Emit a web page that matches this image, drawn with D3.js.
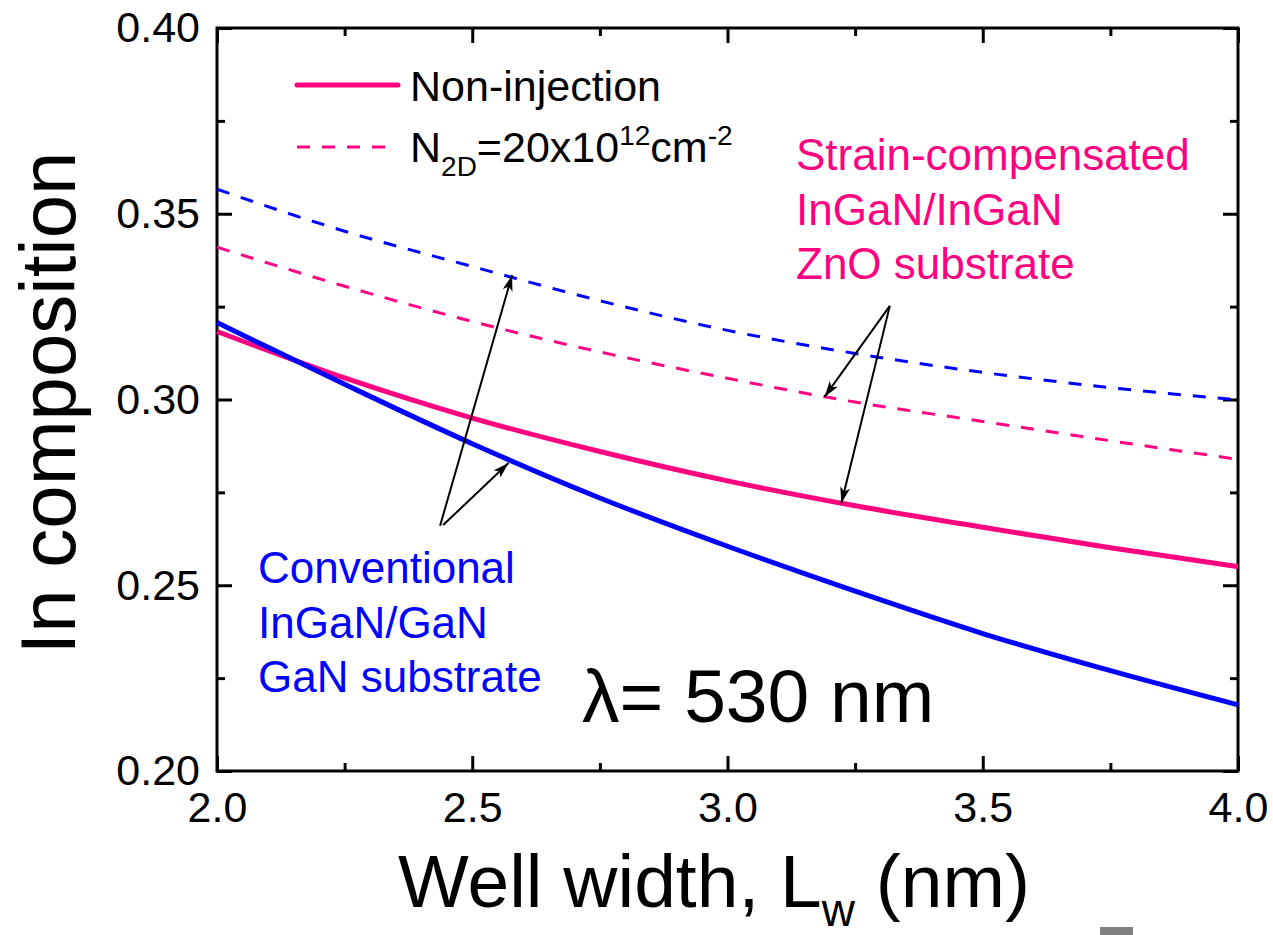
<!DOCTYPE html>
<html>
<head>
<meta charset="utf-8">
<script src="https://cdn.jsdelivr.net/npm/d3@7"></script>
<style>
  body { margin: 0; background: #fff; }
  svg text { font-family: "Liberation Sans", Arial, sans-serif; }
</style>
</head>
<body>
<div id="chart"></div>
<script>
// Well width grid (nm)
const wellWidth = [2.0, 2.25, 2.5, 2.75, 3.0, 3.25, 3.5, 3.75, 4.0];

// In composition for each case
const convNonInj = [0.3207, 0.3041, 0.2881, 0.2735, 0.2605, 0.2484, 0.2370, 0.2270, 0.2178];
const convInj = [0.3566, 0.3453, 0.3358, 0.3266, 0.3186, 0.3124, 0.3073, 0.3032, 0.2999];
const strainNonInj = [0.3183, 0.3058, 0.2950, 0.2860, 0.2781, 0.2714, 0.2656, 0.2601, 0.2550];
const strainInj = [0.3410, 0.3305, 0.3210, 0.3128, 0.3057, 0.2993, 0.2941, 0.2889, 0.2839];

// axis ticks
const xMajor = [2.0, 2.5, 3.0, 3.5, 4.0];
const xMinor = [2.25, 2.75, 3.25, 3.75];
const yMajor = [0.20, 0.25, 0.30, 0.35, 0.40];
const yMinor = [0.225, 0.275, 0.325, 0.375];

// arrow annotations (data units): tail -> tip
const convArrows = [
  [[2.437, 0.2660], [2.578, 0.3335]],
  [[2.443, 0.2662], [2.571, 0.2829]],
];
const strainArrows = [
  [[3.318, 0.3252], [3.190, 0.3007]],
  [[3.318, 0.3252], [3.223, 0.2721]],
];

const PINK = "#ff0080";
const BLUE = "#0000ff";

const dimensions = {
  width: 1273,
  height: 935,
  margin: { top: 28, right: 35, bottom: 164, left: 217 },
};
dimensions.innerWidth = dimensions.width - dimensions.margin.left - dimensions.margin.right;
dimensions.innerHeight = dimensions.height - dimensions.margin.top - dimensions.margin.bottom;

const svg = d3
  .select("#chart")
  .append("svg")
  .attr("width", dimensions.width)
  .attr("height", dimensions.height);

const defs = svg.append("defs");
defs
  .append("marker")
  .attr("id", "arrow")
  .attr("viewBox", "0 0 16 10")
  .attr("refX", 16)
  .attr("refY", 5)
  .attr("markerWidth", 16)
  .attr("markerHeight", 10)
  .attr("markerUnits", "userSpaceOnUse")
  .attr("orient", "auto")
  .append("path")
  .attr("d", "M0,0 L16,5 L0,10 L4,5 Z")
  .attr("fill", "#000");

const graph = svg
  .append("g")
  .attr("transform", `translate(${dimensions.margin.left}, ${dimensions.margin.top})`);

const xScale = d3.scaleLinear().domain([2.0, 4.0]).range([0, dimensions.innerWidth]);
const yScale = d3.scaleLinear().domain([0.20, 0.40]).range([dimensions.innerHeight, 0]);

// Axes (ticks pointing inward)
const fmt = d3.format(".1f");
const fmtY = d3.format(".2f");

function styleAxis(g) {
  g.select(".domain").remove();
  g.selectAll(".tick line").attr("stroke", "#000").attr("stroke-width", 3);
  g.selectAll("text").attr("font-size", 43).attr("fill", "#000");
}

graph
  .append("g")
  .attr("transform", `translate(0, ${dimensions.innerHeight})`)
  .call(d3.axisBottom(xScale).tickValues(xMajor).tickSize(-15).tickPadding(20).tickFormat(fmt))
  .call(styleAxis);
graph
  .append("g")
  .attr("transform", `translate(0, ${dimensions.innerHeight})`)
  .call(d3.axisBottom(xScale).tickValues(xMinor).tickSize(-8).tickFormat(""))
  .call(styleAxis);
graph
  .append("g")
  .call(d3.axisTop(xScale).tickValues(xMajor).tickSize(-15).tickFormat(""))
  .call(styleAxis);
graph
  .append("g")
  .call(d3.axisTop(xScale).tickValues(xMinor).tickSize(-8).tickFormat(""))
  .call(styleAxis);

graph
  .append("g")
  .call(d3.axisLeft(yScale).tickValues(yMajor).tickSize(-15).tickPadding(17).tickFormat(fmtY))
  .call(styleAxis);
graph
  .append("g")
  .call(d3.axisLeft(yScale).tickValues(yMinor).tickSize(-8).tickFormat(""))
  .call(styleAxis);
graph
  .append("g")
  .attr("transform", `translate(${dimensions.innerWidth}, 0)`)
  .call(d3.axisRight(yScale).tickValues(yMajor).tickSize(-15).tickFormat(""))
  .call(styleAxis);
graph
  .append("g")
  .attr("transform", `translate(${dimensions.innerWidth}, 0)`)
  .call(d3.axisRight(yScale).tickValues(yMinor).tickSize(-8).tickFormat(""))
  .call(styleAxis);

// frame
graph
  .append("rect")
  .attr("width", dimensions.innerWidth)
  .attr("height", dimensions.innerHeight)
  .attr("fill", "none")
  .attr("stroke", "#000")
  .attr("stroke-width", 3);

// Curves
const series = [
  { values: strainInj, color: PINK, dashed: true },
  { values: convInj, color: BLUE, dashed: true },
  { values: strainNonInj, color: PINK, dashed: false },
  { values: convNonInj, color: BLUE, dashed: false },
];

const lineGenerator = d3
  .line()
  .x((d) => xScale(d[0]))
  .y((d) => yScale(d[1]))
  .curve(d3.curveMonotoneX);

const lines = graph.append("g");
series.forEach((s) => {
  lines
    .append("path")
    .datum(wellWidth.map((w, i) => [w, s.values[i]]))
    .attr("d", lineGenerator)
    .attr("fill", "none")
    .attr("stroke", s.color)
    .attr("stroke-width", s.dashed ? 3 : 5)
    .attr("stroke-dasharray", s.dashed ? "13,12" : null);
});

// Arrows
graph
  .append("g")
  .selectAll("line")
  .data(convArrows.concat(strainArrows))
  .join("line")
  .attr("x1", (d) => xScale(d[0][0]))
  .attr("y1", (d) => yScale(d[0][1]))
  .attr("x2", (d) => xScale(d[1][0]))
  .attr("y2", (d) => yScale(d[1][1]))
  .attr("stroke", "#000")
  .attr("stroke-width", 2)
  .attr("marker-end", "url(#arrow)");

// Legend
const legend = svg.append("g").attr("transform", "translate(297, 85)");
legend
  .append("line")
  .attr("x1", 0)
  .attr("x2", 101)
  .attr("stroke", PINK)
  .attr("stroke-width", 5)
  .attr("stroke-linecap", "round");
legend
  .append("text")
  .attr("x", 113)
  .attr("y", 16)
  .attr("font-size", 43)
  .text("Non-injection");
legend
  .append("line")
  .attr("x1", 0)
  .attr("x2", 88)
  .attr("y1", 62)
  .attr("y2", 62)
  .attr("stroke", PINK)
  .attr("stroke-width", 3)
  .attr("stroke-dasharray", "13,12");
const l2 = legend.append("text").attr("x", 113).attr("y", 77).attr("font-size", 43);
l2.append("tspan").text("N");
l2.append("tspan").attr("dy", 14).attr("font-size", 28).text("2D");
l2.append("tspan").attr("dy", -14).text("=20x10");
l2.append("tspan").attr("dy", -17).attr("font-size", 28).text("12");
l2.append("tspan").attr("dy", 17).text("cm");
l2.append("tspan").attr("dy", -17).attr("font-size", 28).text("-2");

// Annotation texts
function block(lines, x, y, color, size) {
  const t = svg.append("text").attr("fill", color).attr("font-size", size);
  lines.forEach((s, i) => {
    t.append("tspan").attr("x", x).attr("y", y + i * 54.5).text(s);
  });
}
block(["Strain-compensated", "InGaN/InGaN", "ZnO substrate"], 796, 170, PINK, 44);
block(["Conventional", "InGaN/GaN", "GaN substrate"], 258, 583, BLUE, 44);

svg
  .append("text")
  .attr("x", 582)
  .attr("y", 722)
  .attr("font-size", 75)
  .text("λ= 530 nm");

// Axis titles
const xt = svg
  .append("text")
  .attr("x", 398)
  .attr("y", 907)
  .attr("font-size", 75);
xt.append("tspan").text("Well width, L");
xt.append("tspan").attr("dy", 19).attr("font-size", 46).text("w");
xt.append("tspan").attr("dy", -19).text(" (nm)");

svg
  .append("text")
  .attr("transform", "translate(75, 403) rotate(-90)")
  .attr("text-anchor", "middle")
  .attr("font-size", 78)
  .text("In composition");

// small grey mark at the bottom edge
svg
  .append("rect")
  .attr("x", 1100)
  .attr("y", 927)
  .attr("width", 33)
  .attr("height", 8)
  .attr("fill", "#808080");
</script>
</body>
</html>
